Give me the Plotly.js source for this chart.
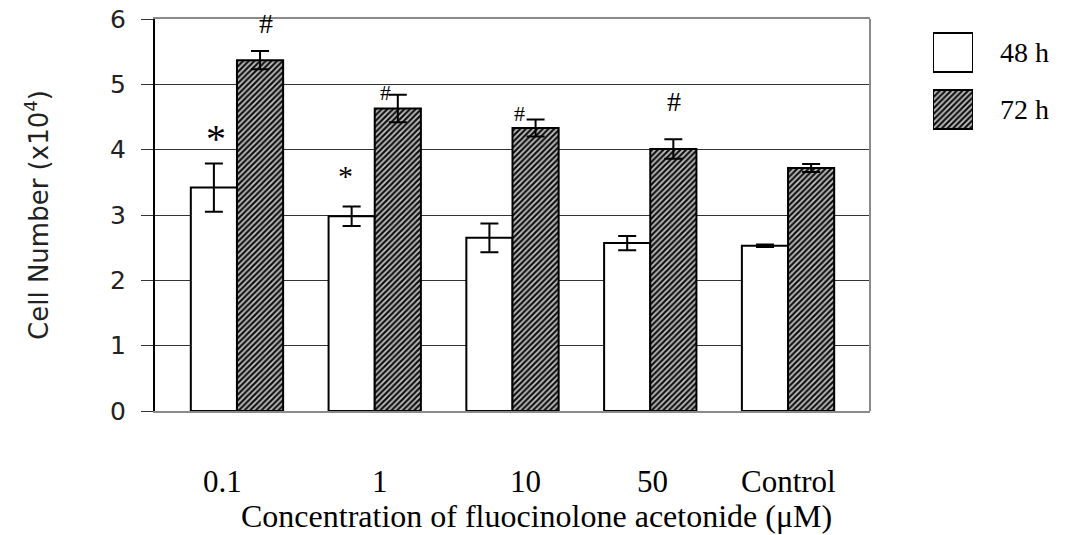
<!DOCTYPE html>
<html>
<head>
<meta charset="utf-8">
<script src="https://cdn.plot.ly/plotly-3.0.1.min.js"></script>
<style>html,body{margin:0;padding:0;background:#fff;}#chart{width:1066px;height:535px;}</style>
</head>
<body>
<div id="chart"></div>
<script>
// ---- data ----
const categories = ['0.1', '1', '10', '50', 'Control'];
const series = ['48 h', '72 h'];
const h48 = [3.42, 2.98, 2.65, 2.57, 2.53];
const h48err = [0.37, 0.15, 0.22, 0.11, 0.02];
const h72 = [5.37, 4.63, 4.33, 4.01, 3.72];
const h72err = [0.14, 0.21, 0.13, 0.15, 0.06];
const marks48 = ['*', '*', '', '', ''];
const marks72 = ['#', '#', '#', '#', ''];
const yTicks = [0, 1, 2, 3, 4, 5, 6];
const xTitle = 'Concentration of fluocinolone acetonide (μM)';
const yTitle = 'Cell Number (x10<sup>4</sup>)';

// ---- layout helpers (positions, not data) ----
const W = 1066, H = 535, ML = 155, MR = 10, MT = 19, MB = 124;
const PW = W - ML - MR, PH = H - MT - MB;
const plotRight = 870;
const px2paperX = p => (p - ML) / PW;
const px2paperY = p => 1 - (p - MT) / PH;
// label centres as placed in the original figure (px)
const labelPx = [222, 380, 525, 652, 788];
// significance-mark placement (offset from category index, y in data units, font size)
const mark48Pos = [{dx: -0.15, y: 4.17, s: 40}, {dx: -0.21, y: 3.6, s: 30}];
const mark72Pos = [{dx: 0.21, y: 5.93, s: 28}, {dx: 0.08, y: 4.88, s: 22}, {dx: 0.05, y: 4.55, s: 22}, {dx: 0.17, y: 4.73, s: 28}];

const serif = 'Liberation Serif, Times New Roman, serif';
const sans = 'DejaVu Sans, Liberation Sans, sans-serif';
const hatch = {shape: '/', fgcolor: '#111', bgcolor: '#c4c4c4', size: 4, solidity: 0.55};

const traces = [
  {
    type: 'bar', name: series[0], x: categories, y: h48,
    marker: {color: '#ffffff', line: {color: '#000', width: 2}},
    error_y: {type: 'data', array: h48err, visible: true, color: '#000', thickness: 2, width: 9},
    showlegend: false, hoverinfo: 'x+y'
  },
  {
    type: 'bar', name: series[1], x: categories, y: h72,
    marker: {color: '#c4c4c4', pattern: hatch, line: {color: '#000', width: 2}},
    error_y: {type: 'data', array: h72err, visible: true, color: '#000', thickness: 2, width: 9},
    showlegend: false, hoverinfo: 'x+y'
  },
  // legend swatches drawn on a small hidden subplot
  {
    type: 'bar', orientation: 'h', y: [series[0]], x: [1], base: 0,
    width: 0.684, offset: -0.342, xaxis: 'x2', yaxis: 'y2',
    marker: {color: '#ffffff', line: {color: '#000', width: 2}},
    showlegend: false, hoverinfo: 'skip'
  },
  {
    type: 'bar', orientation: 'h', y: [series[1]], x: [1], base: 0,
    width: 0.684, offset: -0.342, xaxis: 'x2', yaxis: 'y2',
    marker: {color: '#c4c4c4', pattern: hatch, line: {color: '#000', width: 2}},
    showlegend: false, hoverinfo: 'skip'
  }
];

const annotations = [];
let k48 = 0, k72 = 0;
marks48.forEach((m, i) => {
  if (!m) return;
  const p = mark48Pos[k48++];
  annotations.push({text: m, x: i + p.dx, y: p.y, xref: 'x', yref: 'y', showarrow: false,
    font: {family: serif, size: p.s, color: '#000'}});
});
marks72.forEach((m, i) => {
  if (!m) return;
  const p = mark72Pos[k72++];
  annotations.push({text: m, x: i + p.dx, y: p.y, xref: 'x', yref: 'y', showarrow: false,
    font: {family: serif, size: p.s, color: '#000'}});
});
// category labels, placed where the original figure put them
categories.forEach((c, i) => {
  annotations.push({text: c, x: px2paperX(labelPx[i]), y: px2paperY(481), xref: 'paper', yref: 'paper',
    xanchor: 'center', yanchor: 'middle', showarrow: false, font: {family: serif, size: 31, color: '#000'}});
});
annotations.push({text: xTitle, x: px2paperX(536), y: px2paperY(516), xref: 'paper', yref: 'paper',
  xanchor: 'center', yanchor: 'middle', showarrow: false, font: {family: serif, size: 32, color: '#000'}});

const layout = {
  width: W, height: H,
  margin: {l: ML, r: MR, t: MT, b: MB, pad: 0},
  paper_bgcolor: '#fff', plot_bgcolor: '#fff',
  barmode: 'group', bargap: 0.33, bargroupgap: 0,
  xaxis: {
    domain: [0, px2paperX(plotRight)], type: 'category', range: [-0.595, 4.595],
    showticklabels: false, ticks: '', showgrid: false, zeroline: false,
    showline: true, linecolor: '#8a8a8a', linewidth: 2, mirror: true, fixedrange: true
  },
  yaxis: {
    domain: [0, 1], range: [0, 6], tickmode: 'array', tickvals: yTicks,
    ticks: 'outside', ticklen: 12, tickcolor: '#333', tickwidth: 1,
    showline: true, linecolor: '#000', linewidth: 2,
    showgrid: true, gridcolor: '#333', gridwidth: 1, zeroline: false,
    tickfont: {family: sans, size: 25, color: '#222'}, ticklabelstandoff: 10,
    title: {text: yTitle, font: {family: sans, size: 26, color: '#222'}, standoff: 54},
    fixedrange: true
  },
  xaxis2: {domain: [px2paperX(933), px2paperX(973)], anchor: 'y2', range: [0, 1], visible: false, fixedrange: true},
  yaxis2: {
    domain: [px2paperY(138), px2paperY(24)], anchor: 'x2', type: 'category', autorange: 'reversed',
    side: 'right', showgrid: false, zeroline: false, showline: false, ticks: '',
    tickfont: {family: serif, size: 28, color: '#000'}, ticklabelstandoff: 26, fixedrange: true
  },
  shapes: [
    {type: 'line', xref: 'paper', yref: 'paper', x0: px2paperX(plotRight), x1: px2paperX(plotRight), y0: 0, y1: 1,
      line: {color: '#8a8a8a', width: 2}}
  ],
  annotations: annotations
};

Plotly.newPlot('chart', traces, layout, {displayModeBar: false, staticPlot: true});
</script>
</body>
</html>
